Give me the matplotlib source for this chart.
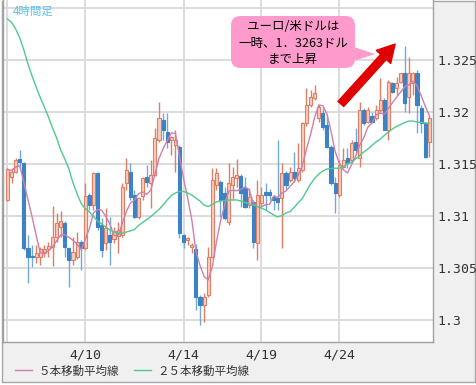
import numpy as np
import pandas as pd
import matplotlib
matplotlib.use("Agg")
import matplotlib.pyplot as plt
from matplotlib.patches import FancyBboxPatch, Polygon, Rectangle, FancyArrowPatch

# ---------------- data (EUR/USD, 4-hour candles) ----------------
opens = [1.31154, 1.31372, 1.31426, 1.31545, 1.31507, 1.30690, 1.30617, 1.30609, 1.30609, 1.30641,
         1.30680, 1.30705, 1.30801, 1.30897, 1.30936, 1.30690, 1.30577, 1.30609, 1.30753, 1.30690,
         1.31202, 1.31106, 1.31410, 1.30913, 1.30737, 1.30817, 1.30776, 1.30811, 1.30817, 1.31314,
         1.31426, 1.31202, 1.30993, 1.31192, 1.31372, 1.31314, 1.31394, 1.31731, 1.31923, 1.31811,
         1.31731, 1.31683, 1.31667, 1.30817, 1.30769, 1.30705, 1.30680, 1.30224, 1.30144, 1.30240,
         1.30609, 1.31298, 1.31330, 1.31218, 1.30945, 1.31298, 1.31362, 1.31384, 1.31266, 1.31106,
         1.31138, 1.30737, 1.31122, 1.31234, 1.31234, 1.31186, 1.31170, 1.31170, 1.31410, 1.31346,
         1.31426, 1.31346, 1.31442, 1.31891, 1.32067, 1.32131, 1.31939, 1.31993, 1.31875, 1.31666,
         1.31314, 1.31202, 1.31474, 1.31555, 1.31538, 1.31714, 1.31555, 1.32019, 1.31907, 1.31962,
         1.31939, 1.32019, 1.32115, 1.31827, 1.32276, 1.32228, 1.32291, 1.32372, 1.32147, 1.32276,
         1.32378, 1.32035, 1.31891, 1.31714]
highs = [1.31465, 1.31460, 1.31555, 1.31635, 1.31520, 1.30817, 1.30721, 1.30721, 1.30699, 1.30721,
         1.30753, 1.31096, 1.31026, 1.31048, 1.30950, 1.30705, 1.30801, 1.30849, 1.30770, 1.31314,
         1.31224, 1.31426, 1.31420, 1.30978, 1.31074, 1.30993, 1.30897, 1.30945, 1.31314, 1.31555,
         1.31506, 1.31250, 1.31180, 1.31378, 1.31490, 1.31538, 1.31843, 1.32099, 1.31987, 1.31987,
         1.31770, 1.31827, 1.31683, 1.30830, 1.30801, 1.30737, 1.30731, 1.30240, 1.30260, 1.30705,
         1.31459, 1.31459, 1.31346, 1.31282, 1.31506, 1.31474, 1.31545, 1.31400, 1.31378, 1.31266,
         1.31150, 1.31346, 1.31282, 1.31314, 1.31260, 1.31200, 1.31731, 1.31513, 1.31430, 1.31474,
         1.31618, 1.31699, 1.31907, 1.32228, 1.32212, 1.32260, 1.32067, 1.32051, 1.31971, 1.31683,
         1.31378, 1.31538, 1.31651, 1.31651, 1.31731, 1.31843, 1.32099, 1.32035, 1.32051, 1.32003,
         1.32067, 1.32324, 1.32131, 1.32308, 1.32291, 1.32340, 1.32372, 1.32630, 1.32532, 1.32388,
         1.32404, 1.32067, 1.31907, 1.31971]
lows = [1.31140, 1.31320, 1.31410, 1.31442, 1.30670, 1.30353, 1.30513, 1.30545, 1.30529, 1.30609,
        1.30609, 1.30519, 1.30753, 1.30801, 1.30609, 1.30320, 1.30529, 1.30590, 1.30481, 1.30670,
        1.31058, 1.31058, 1.30865, 1.30609, 1.30673, 1.30529, 1.30737, 1.30641, 1.30800, 1.31250,
        1.31154, 1.30978, 1.30970, 1.31154, 1.31282, 1.31077, 1.31380, 1.31715, 1.31731, 1.31651,
        1.31587, 1.31426, 1.30785, 1.30689, 1.30721, 1.30640, 1.30096, 1.29952, 1.29984, 1.30220,
        1.30600, 1.31250, 1.30993, 1.30962, 1.30913, 1.31154, 1.31282, 1.31090, 1.31074, 1.31074,
        1.30689, 1.30577, 1.31100, 1.31058, 1.31150, 1.31058, 1.31058, 1.30689, 1.31250, 1.31330,
        1.31330, 1.31330, 1.31420, 1.31870, 1.32051, 1.32115, 1.31900, 1.31827, 1.31651, 1.31298,
        1.31026, 1.31186, 1.31458, 1.31458, 1.31522, 1.31600, 1.31474, 1.31875, 1.31891, 1.31890,
        1.31923, 1.32003, 1.31827, 1.31731, 1.32180, 1.32163, 1.32276, 1.32003, 1.31987, 1.32163,
        1.31795, 1.31795, 1.31560, 1.31570]
closes = [1.31449, 1.31426, 1.31538, 1.31519, 1.30690, 1.30609, 1.30610, 1.30641, 1.30680, 1.30680,
          1.30712, 1.30801, 1.30936, 1.30955, 1.30705, 1.30577, 1.30657, 1.30753, 1.30690, 1.31192,
          1.31106, 1.31416, 1.30897, 1.30673, 1.30882, 1.30753, 1.30859, 1.30865, 1.31276, 1.31442,
          1.31186, 1.30993, 1.31170, 1.31362, 1.31330, 1.31394, 1.31747, 1.31939, 1.31827, 1.31715,
          1.31763, 1.31731, 1.30833, 1.30753, 1.30785, 1.30721, 1.30224, 1.30144, 1.30224, 1.30609,
          1.31346, 1.31410, 1.31154, 1.30978, 1.31314, 1.31378, 1.31394, 1.31218, 1.31090, 1.31186,
          1.30753, 1.31202, 1.31202, 1.31202, 1.31202, 1.31154, 1.31138, 1.31410, 1.31298, 1.31426,
          1.31362, 1.31458, 1.31891, 1.32067, 1.32141, 1.32186, 1.32051, 1.31859, 1.31666, 1.31314,
          1.31218, 1.31490, 1.31538, 1.31507, 1.31705, 1.31635, 1.32019, 1.31891, 1.32019, 1.31907,
          1.32019, 1.32115, 1.31827, 1.32291, 1.32195, 1.32276, 1.32372, 1.32083, 1.32372, 1.32378,
          1.32067, 1.31891, 1.31570, 1.31939]
# 25-period moving average (needs history before the window)
ma25 = [1.32894, 1.32861, 1.32798, 1.32712, 1.32596, 1.32462, 1.32346, 1.32240, 1.32139, 1.32048,
        1.31952, 1.31846, 1.31750, 1.31635, 1.31548, 1.31452, 1.31317, 1.31212, 1.31120, 1.31072,
        1.31038, 1.30995, 1.30952, 1.30923, 1.30894, 1.30865, 1.30846, 1.30827, 1.30832, 1.30846,
        1.30856, 1.30870, 1.30909, 1.30938, 1.30966, 1.30995, 1.31029, 1.31063, 1.31106, 1.31154,
        1.31197, 1.31221, 1.31236, 1.31236, 1.31221, 1.31202, 1.31173, 1.31144, 1.31106, 1.31091,
        1.31111, 1.31135, 1.31144, 1.31149, 1.31154, 1.31154, 1.31154, 1.31144, 1.31130, 1.31120,
        1.31106, 1.31091, 1.31077, 1.31058, 1.31034, 1.31010, 1.30990, 1.31005, 1.31029, 1.31043,
        1.31082, 1.31130, 1.31168, 1.31240, 1.31308, 1.31361, 1.31404, 1.31433, 1.31452, 1.31457,
        1.31459, 1.31459, 1.31476, 1.31500, 1.31519, 1.31548, 1.31582, 1.31615, 1.31644, 1.31678,
        1.31712, 1.31740, 1.31774, 1.31808, 1.31837, 1.31861, 1.31880, 1.31899, 1.31913, 1.31913,
        1.31904, 1.31899, 1.31894, 1.31891]

date_tick_pos = [0, 19, 43, 62, 81]
date_tick_labels = ["", "4/10", "4/14", "4/19", "4/24"]
y_ticks = [1.300, 1.305, 1.310, 1.315, 1.320, 1.325, 1.330]
y_tick_labels = ["1.3", "1.305", "1.31", "1.315", "1.32", "1.325", ""]
legend_labels = ["５本移動平均線", "２５本移動平均線"]
timeframe_label = "4時間足"
note_text = "ユーロ/米ドルは\n一時、1．3263ドル\nまで上昇"

# ---------------- figure ----------------
W, H = 477, 385
fig = plt.figure(figsize=(W / 100, H / 100), dpi=100)
fig.patch.set_facecolor("white")
JP = ["Noto Sans CJK JP", "DejaVu Sans"]
MONO = ["DejaVu Sans Mono"]


def fx(x):
    return x / W


def fy(y):
    return 1 - y / H


frame = Rectangle((fx(1.5), fy(381.5)), 473.5 / W, 381 / H, transform=fig.transFigure,
                  facecolor="#f0f0f0", edgecolor="#a6a6a6", lw=1.0, zorder=-5)
fig.add_artist(frame)

ax = fig.add_axes([fx(2.5), fy(342), (433 - 2.5) / W, 342 / H])
ax.set_facecolor("white")

df = pd.DataFrame({"open": opens, "high": highs, "low": lows, "close": closes, "ma25": ma25})
df["ma5"] = df["close"].rolling(5, min_periods=1).mean()
idx = np.arange(len(df))
up = df["close"] >= df["open"]

up_edge = "#e27d65"
up_fill = "#f7cdbf"
dn_col = "#3d82c4"
dn_wick = "#72a9dc"

wick_cols = np.where(up, up_edge, dn_wick)
ax.vlines(idx, df["low"], df["high"], colors=wick_cols, lw=1.0, zorder=2)
body_bottom = np.minimum(df["open"], df["close"])
body_height = np.abs(df["close"] - df["open"])
ax.bar(idx, body_height, bottom=body_bottom, width=0.75,
       color=np.where(up, up_fill, dn_col), edgecolor=np.where(up, up_edge, dn_col),
       linewidth=0.8, zorder=3)

l5, = ax.plot(idx, df["ma5"], color="#cf7fae", lw=1.0, zorder=4)
l25, = ax.plot(idx, df["ma25"], color="#4fca8c", lw=1.0, zorder=4)

ax.set_xlim(-1.22, 103.9)
ax.set_ylim(1.3 - 22 / 10400, 1.3 + 320 / 10400)

ax.set_xticks(date_tick_pos)
ax.set_xticklabels(date_tick_labels, family=MONO, fontsize=9.5, color="#333333")
ax.set_yticks(y_ticks)
ax.set_yticklabels(y_tick_labels, family=MONO, fontsize=9.5, color="#333333")
ax.yaxis.tick_right()
ax.tick_params(axis="both", length=0)
ax.tick_params(axis="y", pad=3)
ax.tick_params(axis="x", pad=5)
ax.grid(True, color="#d9d9d9", lw=1.3, zorder=0)
ax.set_axisbelow(True)
for s in ["left", "bottom", "right"]:
    ax.spines[s].set_color("#a0a0a0")
    ax.spines[s].set_linewidth(1.0)
ax.spines["top"].set_visible(False)

# timeframe label
fig.text(fx(13), fy(11), timeframe_label, family=JP, fontsize=8.3, color="#5bc3ee",
         ha="left", va="center")

# legend
fig.legend(handles=[l5, l25], labels=legend_labels, loc="center left",
           bbox_to_anchor=(fx(15), fy(371)), ncol=2, frameon=False,
           borderpad=0, borderaxespad=0,
           handlelength=1.5, handletextpad=0.55, columnspacing=1.3,
           prop={"family": JP, "size": 8.3}, labelcolor="#333333")

# speech bubble
tail = Polygon([[fx(345), fy(44)], [fx(375), fy(54)], [fx(345), fy(64)]], closed=True,
               transform=fig.transFigure, facecolor="#ff9bcc", edgecolor="none", zorder=6)
fig.add_artist(tail)
box = FancyBboxPatch((fx(231), fy(68)), (355 - 231) / W, (68 - 16) / H,
                     boxstyle="round,pad=0,rounding_size=0.02", transform=fig.transFigure,
                     facecolor="#ff9bcc", edgecolor="none", zorder=6, mutation_aspect=W / H)
fig.add_artist(box)
fig.text(fx(293), fy(43), note_text, family=JP, fontsize=9, color="black",
         ha="center", va="center", multialignment="center", linespacing=1.35, zorder=7)

# red arrow
arrow = FancyArrowPatch((fx(339), fy(106)), (fx(397), fy(42)), transform=fig.transFigure,
                        arrowstyle="simple,head_length=1.25,head_width=1.4,tail_width=0.55",
                        mutation_scale=10, color="#e00000", zorder=6)
fig.add_artist(arrow)

fig.savefig("out.png", dpi=100, facecolor=fig.get_facecolor())
